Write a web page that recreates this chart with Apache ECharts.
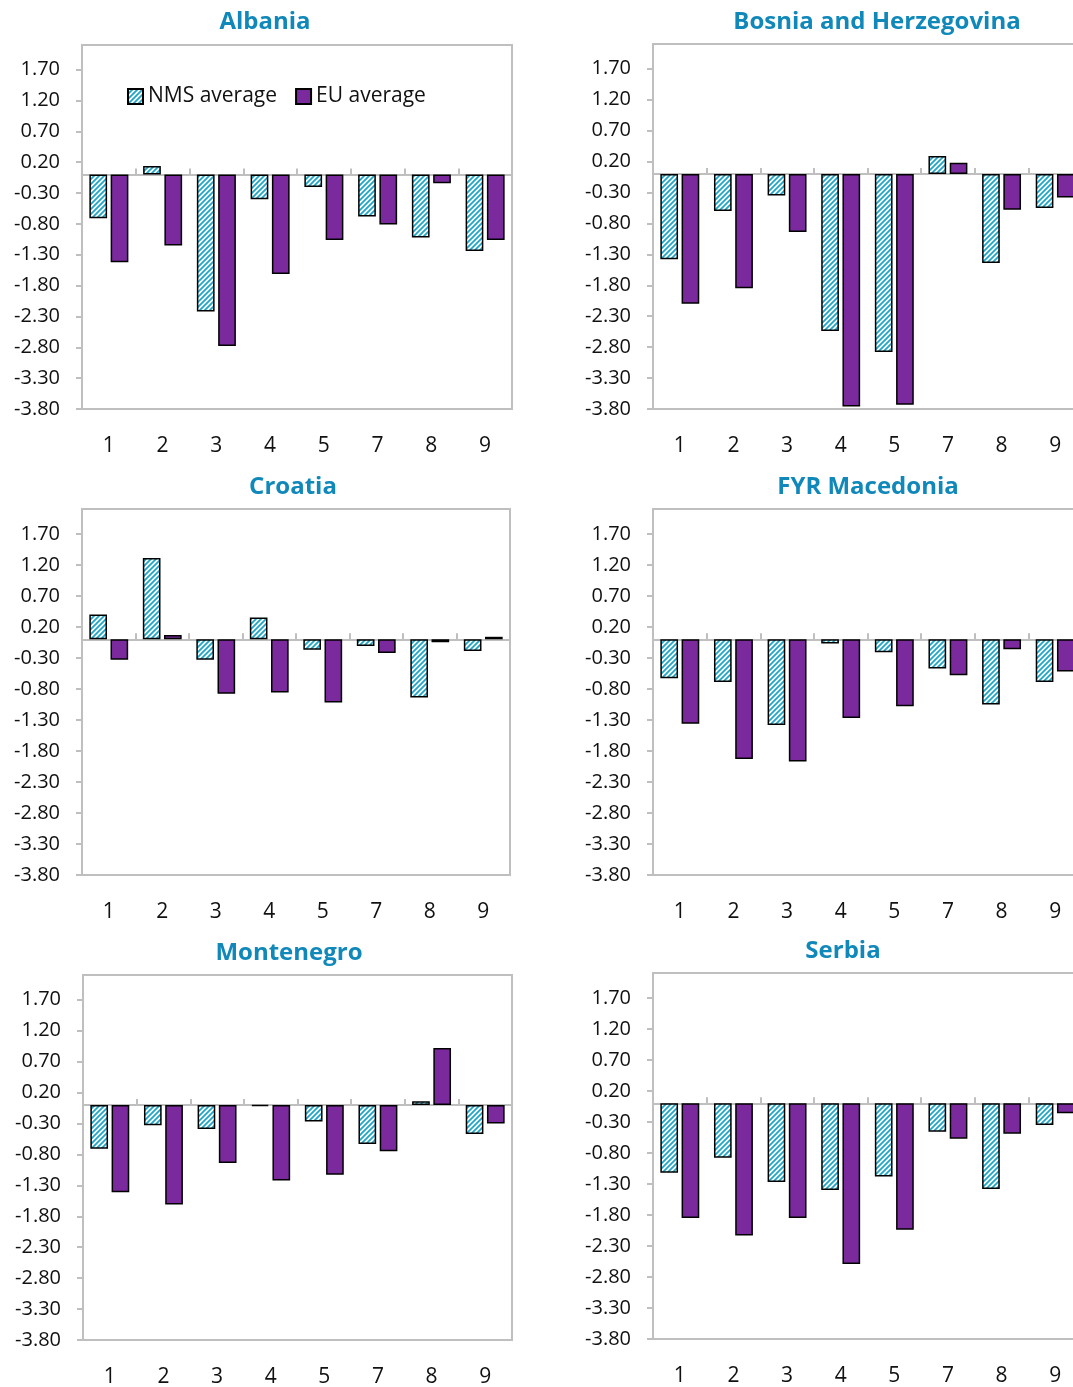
<!DOCTYPE html>
<html lang="en">
<head>
<meta charset="UTF-8">
<title>NMS and EU average - Western Balkans</title>
<script src="https://cdn.jsdelivr.net/npm/echarts@6/dist/echarts.min.js"></script>
<style>
    body { margin: 0; background: #fff; }
    #main { width: 1073px; height: 1387px; }
</style>
</head>
<body>
<div id="main"></div>
<script>
// categories on the x axis and the y tick values
var categories = ['1', '2', '3', '4', '5', '7', '8', '9'];
var yTicks = [-3.8, -3.3, -2.8, -2.3, -1.8, -1.3, -0.8, -0.3, 0.2, 0.7, 1.2, 1.7];
var countries = ['Albania', 'Bosnia and Herzegovina', 'Croatia', 'FYR Macedonia', 'Montenegro', 'Serbia'];
var seriesNames = ['NMS average', 'EU average'];

// values
var albaniaNMS = [-0.71, 0.14, -2.22, -0.40, -0.20, -0.68, -1.02, -1.24];
var albaniaEU = [-1.42, -1.15, -2.78, -1.61, -1.06, -0.81, -0.14, -1.06];
var bosniaNMS = [-1.38, -0.60, -0.35, -2.54, -2.88, 0.29, -1.44, -0.55];
var bosniaEU = [-2.10, -1.85, -0.94, -3.76, -3.73, 0.18, -0.58, -0.38];
var croatiaNMS = [0.40, 1.31, -0.33, 0.35, -0.17, -0.11, -0.94, -0.19];
var croatiaEU = [-0.33, 0.07, -0.88, -0.86, -1.02, -0.22, -0.05, 0.04];
var macedoniaNMS = [-0.63, -0.69, -1.38, -0.07, -0.21, -0.47, -1.05, -0.69];
var macedoniaEU = [-1.36, -1.93, -1.97, -1.27, -1.08, -0.58, -0.16, -0.52];
var montenegroNMS = [-0.71, -0.33, -0.39, -0.02, -0.27, -0.63, 0.06, -0.47];
var montenegroEU = [-1.41, -1.61, -0.94, -1.22, -1.13, -0.75, 0.92, -0.30];
var serbiaNMS = [-1.12, -0.88, -1.27, -1.40, -1.18, -0.46, -1.38, -0.35];
var serbiaEU = [-1.85, -2.13, -1.85, -2.59, -2.04, -0.57, -0.49, -0.16];

var nmsData = [albaniaNMS, bosniaNMS, croatiaNMS, macedoniaNMS, montenegroNMS, serbiaNMS];
var euData = [albaniaEU, bosniaEU, croatiaEU, macedoniaEU, montenegroEU, serbiaEU];

// panel layout: [left, top, width, height, title centre x, title centre y]
var layout = [
    [82, 45, 430, 364, 265, 20],
    [653, 44, 429, 365, 877, 20],
    [82, 509, 428, 366, 293, 485],
    [653, 509, 429, 366, 868, 485],
    [83, 975, 429, 365, 289, 951],
    [653, 973, 429, 366, 843, 949]
];

var font = '"Open Sans", "Segoe UI", sans-serif';
var gray = '#bfbfbf';
var purple = '#7b2a9e';
var titleColor = '#1088b9';

function hatch() {
    var c = document.createElement('canvas');
    c.width = 5;
    c.height = 5;
    var g = c.getContext('2d');
    g.fillStyle = '#ffffff';
    g.fillRect(0, 0, 5, 5);
    g.strokeStyle = '#1ea6c8';
    g.lineWidth = 1.8;
    g.beginPath();
    g.moveTo(-1, 6); g.lineTo(6, -1);
    g.moveTo(-1, 1); g.lineTo(1, -1);
    g.moveTo(4, 6); g.lineTo(6, 4);
    g.stroke();
    return c;
}
var hatchFill = { image: hatch(), repeat: 'repeat' };

var titles = [], grids = [], xAxes = [], yAxes = [], series = [];

for (var i = 0; i < countries.length; i++) {
    var L = layout[i];
    titles.push({
        text: countries[i],
        left: L[4],
        top: L[5] - 13,
        padding: 0,
        textAlign: 'center',
        textStyle: { fontFamily: font, fontSize: 24, fontWeight: 'bold', color: titleColor, lineHeight: 30 }
    });
    grids.push({
        left: L[0], top: L[1], width: L[2], height: L[3],
        outerBoundsMode: 'none',
        show: true, borderColor: gray, borderWidth: 2, backgroundColor: 'transparent'
    });
    // axis line through zero with the tick marks between groups
    xAxes.push({
        type: 'category', gridIndex: i, data: categories, position: 'bottom',
        axisLine: { onZero: true, lineStyle: { color: gray, width: 2 } },
        axisTick: { show: true, inside: true, length: 6, lineStyle: { color: gray, width: 2 } },
        axisLabel: { show: false },
        splitLine: { show: false }
    });
    // category labels along the bottom of the frame
    xAxes.push({
        type: 'category', gridIndex: i, data: categories, position: 'bottom',
        axisLine: { show: false, onZero: false },
        axisTick: { show: false },
        axisLabel: { fontFamily: font, fontSize: 21, color: '#111', margin: 27 },
        splitLine: { show: false }
    });
    yAxes.push({
        type: 'value', gridIndex: i, min: -3.8, max: 2.1,
        axisLine: { show: false },
        axisTick: { show: true, length: 6, customValues: yTicks, lineStyle: { color: gray, width: 2 } },
        axisLabel: {
            customValues: yTicks, fontFamily: font, fontSize: 20, color: '#111', margin: 22,
            formatter: function (v) { return v.toFixed(2); }
        },
        splitLine: { show: false }
    });
    series.push({
        name: seriesNames[0], type: 'bar', xAxisIndex: 2 * i, yAxisIndex: i,
        data: nmsData[i], barWidth: '33%', barGap: '20%',
        itemStyle: { color: hatchFill, borderColor: '#000', borderWidth: 1.5 }
    });
    series.push({
        name: seriesNames[1], type: 'bar', xAxisIndex: 2 * i, yAxisIndex: i,
        data: euData[i], barWidth: '33%', barGap: '20%',
        itemStyle: { color: purple, borderColor: '#000', borderWidth: 1.5 }
    });
}

var myChart = echarts.init(document.getElementById('main'));
var option = {
    animation: false,
    backgroundColor: '#fff',
    title: titles,
    legend: {
        data: seriesNames,
        left: 122, top: 81,
        icon: 'rect', itemWidth: 15, itemHeight: 15, itemGap: 18,
        textStyle: { fontFamily: font, fontSize: 21, color: '#111' }
    },
    grid: grids,
    xAxis: xAxes,
    yAxis: yAxes,
    series: series
};
myChart.setOption(option);
</script>
</body>
</html>
